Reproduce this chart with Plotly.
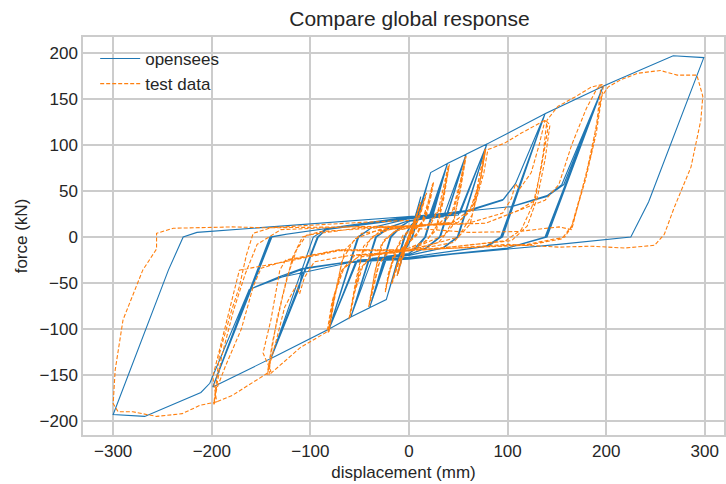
import plotly.graph_objects as go

# OpenSees model response: (displacement mm, force kN)
opensees_points = [
    (0, 0), (8, 27), (1, 3), (-8, -26), (-1, -2), (8, 27), (1, 3), (-8, -26), (-1, -2),
    (5, 14), (12, 44), (3, 10), (-5, -13), (-12, -42), (-3, -9), (5, 14), (12, 44), (3, 10),
    (-5, -13), (-12, -42), (-3, -9),
    (2, 6), (7, 18), (22, 70), (3, 0), (-2, -10), (-9, -18), (-23, -68), (-4, 0), (1, 11),
    (8, 19), (22, 70), (4, 1), (-2, -11), (-10, -19), (-23, -68), (-5, 0),
    (2, 13), (9, 20), (22, 70), (39, 80), (17, 0), (8, -12), (0, -18), (-10, -20), (-23, -68),
    (-40, -77), (-19, 0), (-8, 12), (0, 17), (20, 21), (39, 80), (16, 0), (6, -12), (0, -18),
    (-22, -21), (-40, -77), (-18, 0),
    (-7, 12), (0, 17), (21, 21), (39, 80), (16, 0), (6, -12), (0, -18), (-23, -21), (-40, -77),
    (-19, 0),
    (-8, 11), (0, 17), (24, 22), (39, 80), (58, 90), (32, 0), (18, -12), (0, -19), (-25, -22),
    (-40, -77), (-59, -87), (-34, 0), (-22, 10), (0, 18), (35, 22), (58, 90), (31, 0), (17, -12),
    (0, -19), (-37, -23), (-59, -87), (-33, 0),
    (-20, 10), (0, 18), (38, 23), (58, 90), (79, 101), (50, 0), (35, -12), (0, -20), (-40, -24),
    (-59, -87), (-81, -100), (-52, 0), (-38, 10), (0, 20), (35, 23), (50, 24), (79, 101), (49, 0),
    (34, -12), (0, -20), (-35, -24), (-52, -25), (-81, -100), (-51, 0),
    (-38, 10), (0, 20), (40, 24), (52, 26), (79, 101), (138, 134), (95, 0), (80, -10), (0, -22),
    (-40, -25), (-54, -27), (-81, -100), (-140, -132), (-97, 0), (-85, 8), (0, 20), (60, 28),
    (95, 40), (108, 58), (138, 134), (94, 0), (79, -10), (0, -22), (-60, -27), (-108, -34),
    (-111, -54), (-140, -132), (-93, 0),
    (-84, 8), (0, 21), (60, 29), (96, 41), (108, 58), (138, 134), (93, 0), (78, -10), (0, -22),
    (-61, -27), (-108, -35), (-111, -55), (-140, -132), (-92, 0),
    (-84, 8), (0, 21), (60, 29), (96, 41), (108, 58), (138, 134), (197, 164), (140, 0),
    (100, -12), (0, -24), (-61, -27), (-108, -35), (-111, -55), (-140, -132), (-199, -163),
    (-141, 0), (-125, 3), (0, 22), (104, 33), (140, 44), (157, 57), (197, 164), (139, 0),
    (100, -12), (0, -23), (-61, -27), (-108, -34), (-131, -43), (-162, -57), (-199, -163),
    (-140, 0),
    (-125, 3), (0, 22), (104, 33), (140, 45), (155, 57), (197, 164), (138, 0), (100, -12),
    (0, -23), (-61, -27), (-108, -35), (-131, -44), (-162, -57), (-199, -163), (-139, 0),
    (-124, 3), (0, 22), (104, 33), (140, 45), (157, 57), (197, 164), (210, 170), (268, 197),
    (299, 195), (243, 38), (225, 0), (152, -8), (0, -23), (-61, -28), (-131, -44), (-162, -57),
    (-202, -159), (-211, -169), (-268, -195), (-300, -193), (-244, -36), (-229, 0), (-215, 5),
    (-47, 18), (0, 22), (20, 24),
]

# Test data: (displacement mm, force kN)
test_points = [
    (0, 0), (3, 10), (6, 20), (2, 8), (-3, -8), (-6, -22), (-2, -8), (3, 8), (6, 21), (1, 5),
    (-4, -10), (-6, -23), (-1, -5),
    (4, 12), (9, 30), (11, 36), (6, 18), (0, 2), (-5, -12), (-10, -34), (-11, -40), (-6, -20),
    (0, -2), (5, 12), (10, 32), (12, 38), (6, 16), (0, 0), (-5, -14), (-11, -36), (-12, -42),
    (-5, -16),
    (2, 4), (8, 18), (14, 36), (17, 46), (12, 28), (4, 8), (-4, -8), (-10, -24), (-16, -44),
    (-17, -50), (-11, -30), (-3, -8), (4, 6), (10, 20), (15, 38), (18, 48), (12, 26), (4, 4),
    (-4, -10), (-11, -26), (-17, -46), (-18, -52), (-10, -26), (-2, -6),
    (5, 6), (13, 16), (20, 40), (24, 58), (22, 50), (16, 22), (8, 4), (-2, -8), (-12, -16),
    (-20, -36), (-24, -58), (-20, -40), (-12, -12), (-2, 4), (8, 10), (16, 20), (22, 42),
    (25, 60), (18, 24), (8, 2), (-4, -10), (-14, -18), (-21, -40), (-24, -60), (-16, -20),
    (-6, 2),
    (5, 10), (20, 14), (30, 30), (36, 60), (40, 78), (36, 50), (28, 12), (18, -4), (0, -12),
    (-20, -16), (-30, -28), (-36, -55), (-40, -74), (-35, -40), (-28, -8), (-15, 6), (0, 10),
    (22, 14), (32, 32), (38, 62), (41, 79), (35, 40), (28, 8), (15, -6), (0, -12), (-22, -18),
    (-31, -30), (-37, -58), (-41, -76), (-34, -36), (-26, -4), (-12, 8),
    (0, 10), (30, 14), (44, 28), (52, 60), (57, 87), (53, 60), (46, 20), (36, 2), (0, -14),
    (-35, -18), (-47, -32), (-55, -60), (-60, -88), (-55, -60), (-48, -20), (-38, 0), (-20, 8),
    (0, 11), (35, 15), (46, 30), (53, 62), (58, 88), (52, 50), (44, 12), (30, -6), (0, -14),
    (-38, -20), (-49, -34), (-56, -62), (-61, -90), (-54, -48), (-46, -10), (-30, 6),
    (0, 12), (45, 16), (62, 30), (72, 60), (77, 95), (72, 70), (64, 24), (50, 0), (0, -15),
    (-50, -20), (-66, -34), (-76, -64), (-81, -103), (-76, -70), (-68, -26), (-55, -2),
    (-30, 8), (0, 12), (50, 16), (64, 32), (73, 64), (78, 96), (70, 50), (62, 14), (45, -6),
    (0, -15), (-52, -22), (-68, -36), (-77, -68), (-82, -104), (-74, -56), (-65, -14), (-48, 4),
    (0, 12), (50, 16), (66, 32), (76, 70), (80, 95), (97, 102), (114, 113), (138, 127),
    (143, 122), (138, 84), (130, 42), (120, 12), (104, -4), (50, -10), (0, -15), (-55, -20),
    (-68, -36), (-78, -70), (-83, -103), (-110, -120), (-142, -150), (-140, -128), (-134, -90),
    (-124, -45), (-114, -14), (-104, 2), (-50, 10), (0, 12),
    (60, 15), (95, 26), (104, 42), (108, 58), (112, 52), (124, 70), (132, 100), (138, 127),
    (141, 118), (134, 74), (126, 36), (114, 8), (98, -4), (50, -10), (0, -15), (-60, -20),
    (-96, -27), (-106, -44), (-111, -62), (-114, -52), (-126, -76), (-134, -110), (-142, -141),
    (-144, -150), (-138, -112), (-128, -64), (-118, -22), (-108, 0), (-90, 6),
    (0, 12), (78, 15), (111, 29), (128, 40), (136, 90), (140, 127), (151, 142), (168, 152),
    (185, 163), (197, 166), (197, 163), (190, 113), (179, 62), (165, 11), (158, 0), (120, -8),
    (50, -12), (0, -14), (-71, -14), (-125, -25), (-131, -36), (-140, -90), (-148, -126),
    (-140, -146), (-145, -149), (-179, -172), (-197, -180), (-198, -182), (-192, -126),
    (-180, -80), (-172, -54), (-165, -20), (-158, 4), (-140, 10), (0, 12), (78, 15), (111, 29),
    (138, 40), (152, 57), (165, 100), (180, 140), (190, 160), (195, 166), (190, 120), (179, 65),
    (165, 12), (155, -2), (120, -9), (0, -14), (-71, -14), (-125, -26), (-150, -34),
    (-158, -54), (-170, -100), (-186, -140), (-195, -165), (-198, -182), (-190, -130),
    (-178, -80), (-166, -40), (-154, -8), (-130, 8), (-60, 11),
    (0, 10), (61, 5), (111, 6), (152, 11), (165, 8), (185, 91), (195, 152), (202, 163),
    (215, 171), (232, 178), (255, 181), (272, 176), (292, 176), (298, 153), (296, 127),
    (286, 76), (269, 32), (259, 3), (249, -9), (219, -12), (185, -10), (152, -11), (101, -8),
    (0, -15), (-71, -15), (-131, -28), (-172, -36), (-199, -152), (-195, -179), (-212, -183),
    (-230, -192), (-256, -195), (-280, -190), (-295, -190), (-300, -181), (-298, -145),
    (-290, -90), (-270, -36), (-256, -13), (-256, 4), (-239, 9.5), (-179, 11), (-145, 10),
    (-47, 16), (0, 18),
]

x_ticks = [-300, -200, -100, 0, 100, 200, 300]
y_ticks = [-200, -150, -100, -50, 0, 50, 100, 150, 200]


def label(v):
    return ("\u2212" + str(-v)) if v < 0 else str(v)


fig = go.Figure()
fig.add_trace(go.Scatter(
    x=[p[0] for p in opensees_points], y=[p[1] for p in opensees_points],
    mode="lines", name="opensees",
    line=dict(color="#1f77b4", width=1.1),
))
fig.add_trace(go.Scatter(
    x=[p[0] for p in test_points], y=[p[1] for p in test_points],
    mode="lines", name="test data",
    line=dict(color="#ff7f0e", width=1.1, dash="4px,2px"),
))

font_family = "Liberation Sans, Arial, DejaVu Sans, sans-serif"
axis_common = dict(
    showgrid=True, gridcolor="#cccccc", gridwidth=1.5,
    zeroline=False, showline=True, linecolor="#cccccc", linewidth=1.5, mirror=True,
    ticks="", tickfont=dict(size=17, color="#262626", family=font_family),
)

fig.update_layout(
    width=726, height=484,
    margin=dict(l=83, r=0, t=37, b=49),
    paper_bgcolor="white", plot_bgcolor="white",
    font=dict(family=font_family, color="#262626"),
    title=dict(text="Compare global response", x=409.5 / 726, xref="container", xanchor="center",
               y=1 - 19 / 484, yref="container", yanchor="middle",
               font=dict(size=21, color="#262626", family=font_family)),
    xaxis=dict(range=[-330.6, 319.5], tickvals=x_ticks, ticktext=[label(v) for v in x_ticks],
               title=dict(text="displacement (mm)", font=dict(size=17), standoff=6),
               **axis_common),
    yaxis=dict(range=[-215.2, 217.4], tickvals=y_ticks, ticktext=[label(v) for v in y_ticks],
               title=dict(text="force (kN)", font=dict(size=17), standoff=8),
               **axis_common),
    legend=dict(x=0.019, y=0.99, xanchor="left", yanchor="top", bgcolor="rgba(0,0,0,0)",
                font=dict(size=17, color="#262626"), tracegroupgap=2, itemwidth=40),
    showlegend=True,
)

fig.write_html("out.html")
